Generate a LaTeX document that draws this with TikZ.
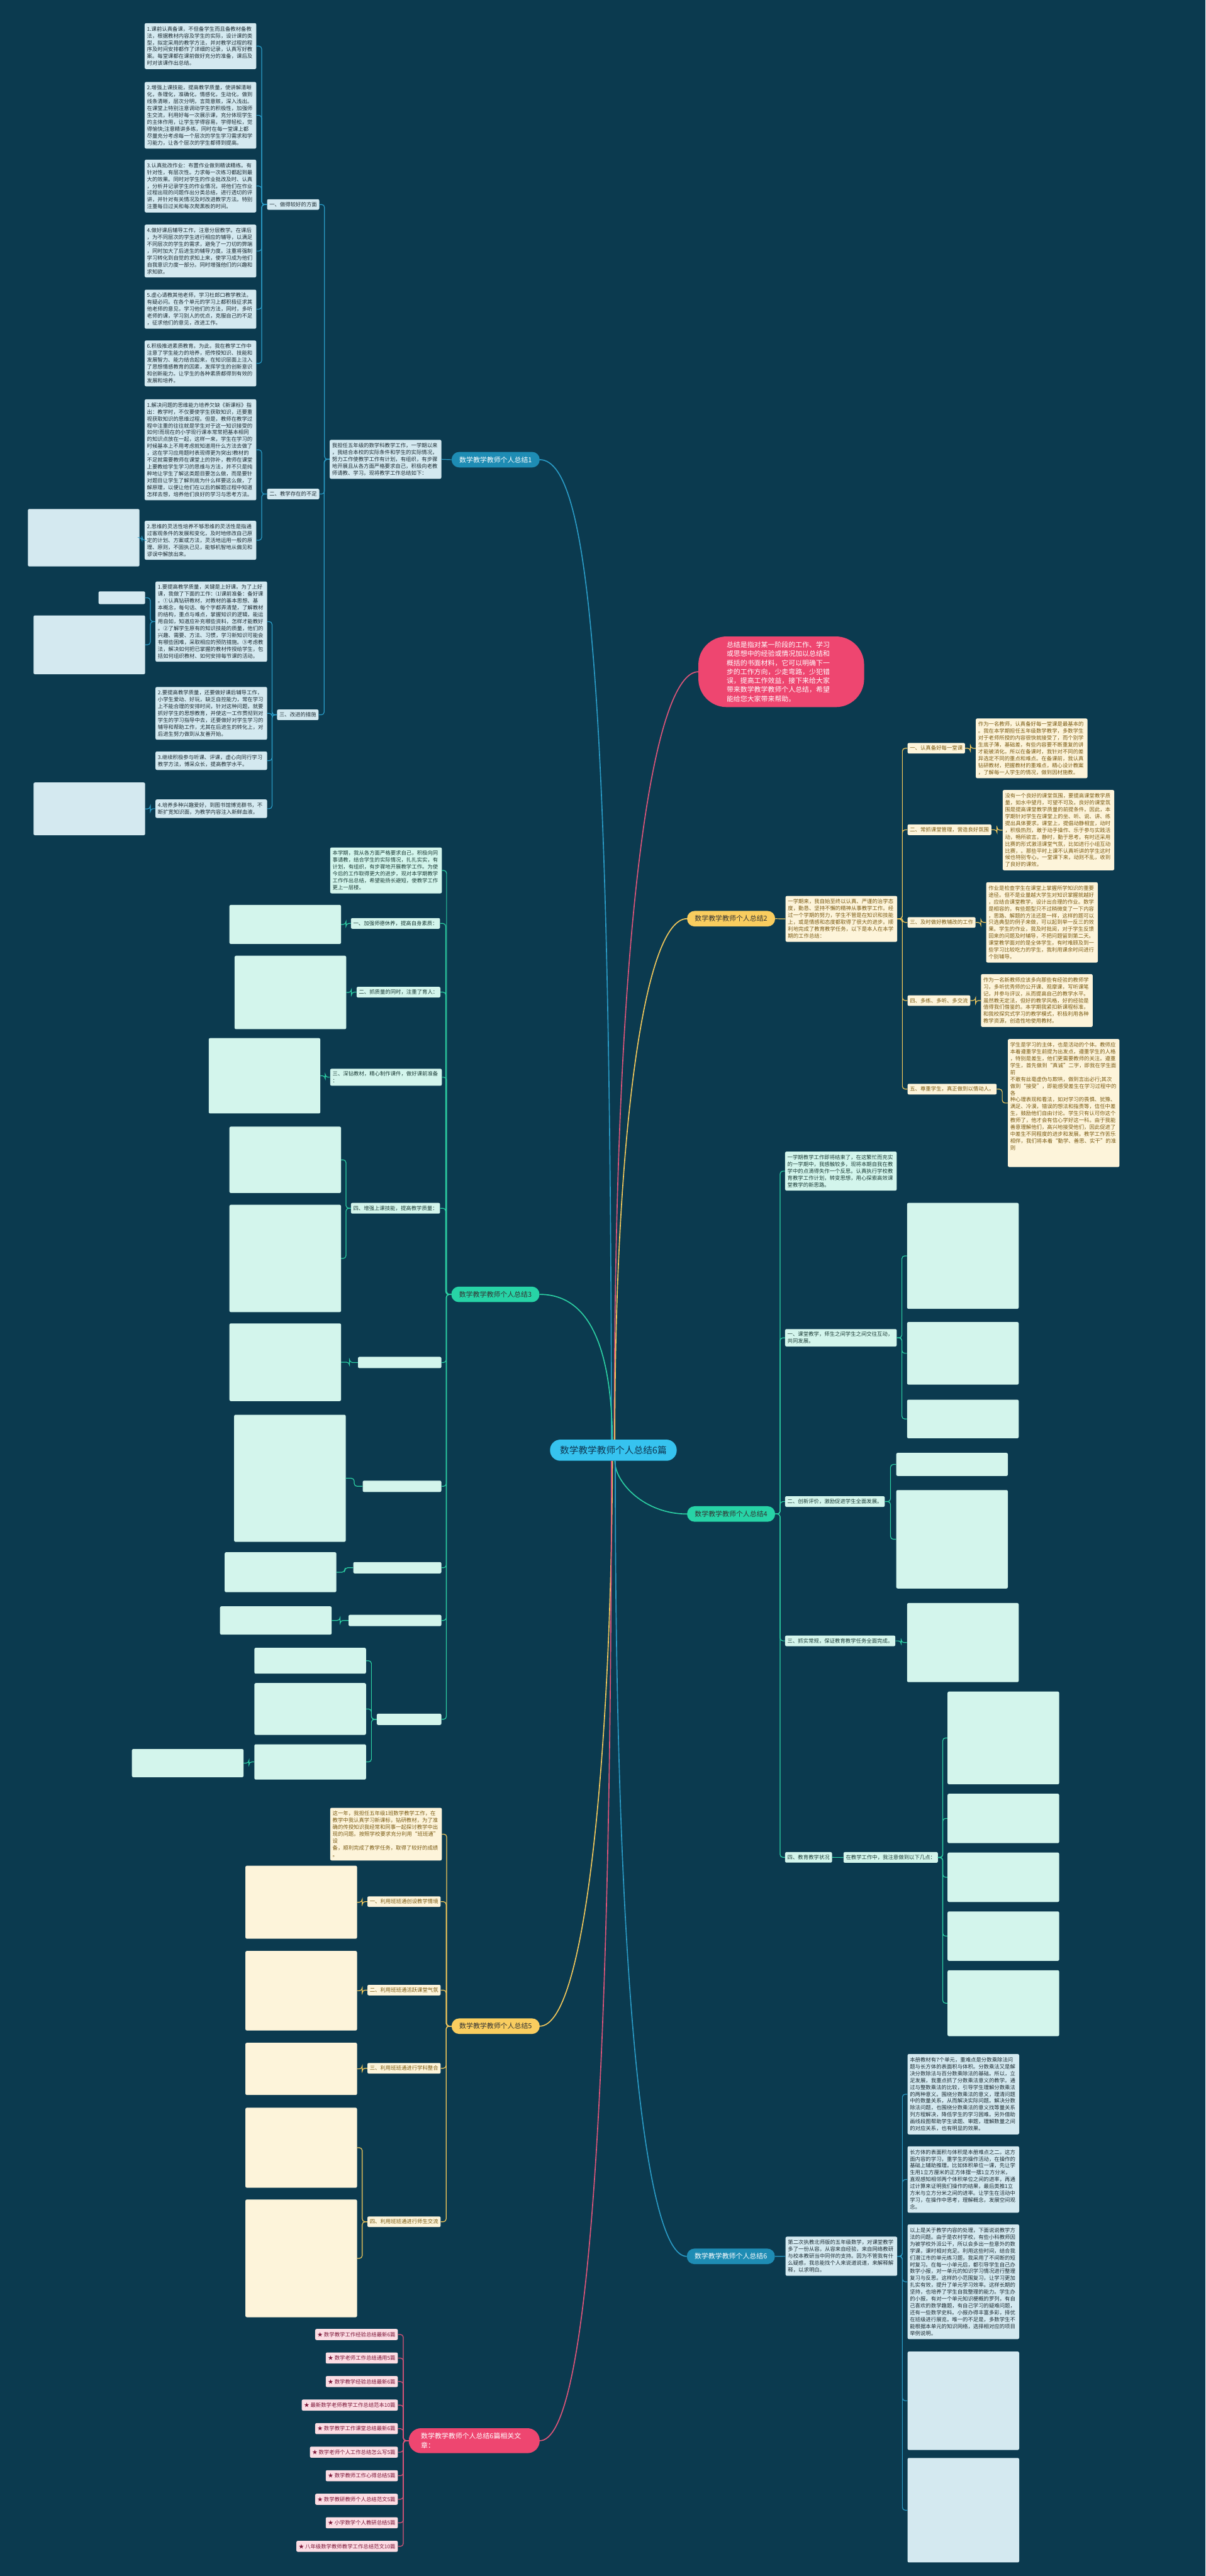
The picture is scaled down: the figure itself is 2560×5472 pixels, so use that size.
\documentclass[tikz,border=0pt]{standalone}
\usepackage{fontspec}
\setmainfont{Noto Sans CJK SC}
\usetikzlibrary{calc}
\XeTeXlinebreaklocale "zh"
\XeTeXlinebreakskip=0pt plus 1pt
\definecolor{bg}{HTML}{0B3A4F}
\definecolor{bnode}{HTML}{1E8CB4}
\definecolor{bline}{HTML}{2A9BC6}
\definecolor{bbox}{HTML}{D4E9F0}
\definecolor{btxt}{HTML}{1C2B33}
\definecolor{gnode}{HTML}{F9CD5F}
\definecolor{gline}{HTML}{F4C95B}
\definecolor{gbox}{HTML}{FDF4DA}
\definecolor{gtxt}{HTML}{7A5A12}
\definecolor{mnode}{HTML}{27D3A6}
\definecolor{mline}{HTML}{2CCFA3}
\definecolor{mbox}{HTML}{D3F5EC}
\definecolor{mtxt}{HTML}{1B3B36}
\definecolor{rnode}{HTML}{EE4670}
\definecolor{rline}{HTML}{E0557A}
\definecolor{pbox}{HTML}{FCDDE4}
\definecolor{ptxt}{HTML}{7B1436}
\definecolor{cnode}{HTML}{36C3EF}
\definecolor{ctxt}{HTML}{0E3550}
\newcommand\conR[3][]{\draw[#1] (#2.east) -- ($(#2.east)!0.5!(#3.west|-#2.east)$) |- (#3.west);}
\newcommand\conL[3][]{\draw[#1] (#2.west) -- ($(#2.west)!0.5!(#3.east|-#2.west)$) |- (#3.east);}
\tikzset{
  txtbox/.style={rounded corners=3pt, inner xsep=5pt, inner ysep=7pt, anchor=north west, align=left, text width=227pt, font=\fontsize{11.2}{14.6}\selectfont},
  bb/.style={txtbox, fill=bbox, text=btxt},
  gb/.style={txtbox, fill=gbox, text=gtxt},
  mb/.style={txtbox, fill=mbox, text=mtxt},
  emptybox/.style={rounded corners=3pt, inner sep=0pt, anchor=north west, minimum width=237pt, minimum height=#1},
  be/.style={emptybox=#1, fill=bbox},
  ge/.style={emptybox=#1, fill=gbox},
  me/.style={emptybox=#1, fill=mbox},
  sublab/.style={rounded corners=3pt, inner xsep=5pt, inner ysep=6pt, anchor=north west, align=left, font=\fontsize{11.2}{14.6}\selectfont},
  bs/.style={sublab, fill=bbox, text=btxt},
  gs/.style={sublab, fill=gbox, text=gtxt},
  ms/.style={sublab, fill=mbox, text=mtxt},
  mse/.style={rounded corners=3pt, inner sep=0pt, anchor=north west, minimum width=#1, minimum height=24pt, fill=mbox},
  ps/.style={sublab, fill=pbox, text=ptxt, anchor=north east, inner ysep=6.5pt},
  mainnode/.style={rounded corners=16pt, minimum width=187pt, minimum height=33pt, inner sep=0pt, font=\fontsize{14.6}{16}\selectfont},
  bn/.style={mainnode, fill=bnode, text=white},
  gn/.style={mainnode, fill=gnode, text=black!80},
  mn/.style={mainnode, fill=mnode, text=black!80},
  bl/.style={draw=bline, line width=1.6pt, rounded corners=6pt},
  gl/.style={draw=gline, line width=1.6pt, rounded corners=6pt},
  ml/.style={draw=mline, line width=1.6pt, rounded corners=6pt},
  rl/.style={draw=rline, line width=1.6pt, rounded corners=6pt},
  cl/.style={line width=2.2pt},
}
\begin{document}
\begin{tikzpicture}[x=1pt,y=-1pt]
\fill[bg] (0,0) rectangle (2560,5472);
\useasboundingbox (0,0) rectangle (2560,5472);

% ---------------- center
\node[rounded corners=22pt, fill=cnode, text=ctxt, minimum width=269pt, minimum height=45pt, font=\fontsize{19.6}{22}\selectfont] (c) at (1302.5,3080.5) {数学教学教师个人总结6篇};

% ---------------- red intro
\node[rounded corners=60pt, fill=rnode, text=white, minimum width=352pt, minimum height=150pt, text width=232pt, align=left, font=\fontsize{14.6}{19}\selectfont] (r) at (1659,1427) {总结是指对某一阶段的工作、学习\\或思想中的经验或情况加以总结和\\概括的书面材料，它可以明确下一\\步的工作方向，少走弯路，少犯错\\误，提高工作效益，接下来给大家\\带来数学教学教师个人总结，希望\\能给您大家带来帮助。};

% ---------------- branch 1
\node[bn] (b1) at (1052.5,976.5) {数学教学教师个人总结1};
\node[bb] (b1i) at (700,934) {我担任五年级的数学科教学工作，一学期以来\\，我结合本校的实际条件和学生的实际情况，\\努力工作使教学工作有计划，有组织，有步骤\\地开展且从各方面严格要求自己，积极向老教\\师请教、学习。现将教学工作总结如下：};
\node[bs] (s1a) at (567,423) {一、做得较好的方面};
\node[bs] (s1b) at (567,1038) {二、教学存在的不足};
\node[bs] (s1c) at (588,1507) {三、改进的措施};
\node[bb] (a1) at (307,49) {1.课前认真备课，不但备学生而且备教材备教\\法，根据教材内容及学生的实际，设计课的类\\型，拟定采用的教学方法，并对教学过程的程\\序及时间安排都作了详细的记录，认真写好教\\案。每堂课都在课前做好充分的准备，课后及\\时对该课作出总结。};
\node[bb] (a2) at (307,174) {2.增强上课技能，提高教学质量，使讲解清晰\\化，条理化，准确化，情感化，生动化，做到\\线条清晰，层次分明，言简意赅，深入浅出。\\在课堂上特别注意调动学生的积极性，加强师\\生交流，利用好每一次展示课，充分体现学生\\的主体作用，让学生学得容易，学得轻松，觉\\得愉快;注意精讲多练，同时在每一堂课上都\\尽量充分考虑每一个层次的学生学习需求和学\\习能力，让各个层次的学生都得到提高。};
\node[bb] (a3) at (307,339) {3.认真批改作业：布置作业做到精读精练。有\\针对性，有层次性。力求每一次练习都起到最\\大的效果。同时对学生的作业批改及时、认真\\，分析并记录学生的作业情况，将他们在作业\\过程出现的问题作出分类总结，进行透切的评\\讲，并针对有关情况及时改进教学方法。特别\\注重每日过关和每次爬黑板的时间。};
\node[bb] (a4) at (307,477) {4.做好课后辅导工作，注意分层教学。在课后\\，为不同层次的学生进行相应的辅导，以满足\\不同层次的学生的需求，避免了一刀切的弊端\\，同时加大了后进生的辅导力度。注重将强制\\学习转化到自觉的求知上来，使学习成为他们\\自我意识力度一部分。同时增强他们的兴趣和\\求知欲。};
\node[bb] (a5) at (307,615) {5.虚心请教其他老师，学习杜郎口教学教法。\\有疑必问。在各个单元的学习上都积极征求其\\他老师的意见，学习他们的方法，同时，多听\\老师的课，学习别人的优点，克服自己的不足\\，征求他们的意见，改进工作。};
\node[bb] (a6) at (307,723) {6.积极推进素质教育。为此，我在教学工作中\\注意了学生能力的培养，把传授知识、技能和\\发展智力、能力结合起来，在知识层面上注入\\了思想情感教育的因素，发挥学生的创新意识\\和创新能力。让学生的各种素质都得到有效的\\发展和培养。};
\node[bb] (bb1) at (307,848) {1.解决问题的思维能力培养欠缺《新课标》指\\出：教学时，不仅要使学生获取知识，还要重\\视获取知识的思维过程。但是，教师在教学过\\程中注重的往往就是学生对于这一知识接受的\\如何!而现在的小学现行课本常常把基本相同\\的知识点放在一起，这样一来，学生在学习的\\时候基本上不用考虑就知道用什么方法去做了\\，这在学习应用题时表现得更为突出!教材的\\不足就需要教师在课堂上的弥补，教师在课堂\\上要教给学生学习的思维与方法，并不只是纯\\粹地让学生了解这类题目要怎么做，而是要针\\对题目让学生了解到底为什么样要这么做，了\\解原理，以便让他们在以后的解题过程中知道\\怎样去想，培养他们良好的学习与思考方法。};
\node[bb] (bb2) at (307,1106) {2.思维的灵活性培养不够思维的灵活性是指通\\过客观条件的发展和变化，及时地修改自己原\\定的计划、方案或方法，灵活地运用一般的原\\理、原则，不固执己见，能够机智地从偏见和\\谬误中解放出来。};
\node[be=122pt] (bb2x) at (59,1081) {};
\node[bb] (c1) at (330,1235) {1.要提高教学质量，关键是上好课。为了上好\\课，我做了下面的工作：⑴课前准备：备好课\\。①认真钻研教材，对教材的基本思想、基\\本概念，每句话、每个字都弄清楚，了解教材\\的结构，重点与难点，掌握知识的逻辑，能运\\用自如，知道应补充哪些资料，怎样才能教好\\。②了解学生原有的知识技能的质量，他们的\\兴趣、需要、方法、习惯，学习新知识可能会\\有哪些困难，采取相应的预防措施。③考虑教\\法，解决如何把已掌握的教材传授给学生，包\\括如何组织教材、如何安排每节课的活动。};
\node[be=27pt, minimum width=99pt] (c1x1) at (209,1256) {};
\node[be=125pt] (c1x2) at (71,1307) {};
\node[bb] (c2) at (330,1459) {2.要提高教学质量，还要做好课后辅导工作，\\小学生爱动、好玩，缺乏自控能力，常在学习\\上不能合理的安排时间，针对这种问题，就要\\抓好学生的思想教育，并使这一工作贯彻到对\\学生的学习指导中去，还要做好对学生学习的\\辅导和帮助工作，尤其在后进生的转化上，对\\后进生努力做到从友善开始。};
\node[bb] (c3) at (330,1596) {3.继续积极参与听课、评课，虚心向同行学习\\教学方法，博采众长，提高教学水平。};
\node[bb] (c4) at (330,1698) {4.培养多种兴趣爱好，到图书馆博览群书，不\\断扩宽知识面，为教学内容注入新鲜血液。};
\node[be=112pt] (c4x) at (71,1662) {};
\draw[bl] (b1.west) -- (b1i.east);
\foreach \s in {s1a,s1b,s1c} {\conL[bl]{b1i}{\s}}
\foreach \s in {a1,a2,a3,a4,a5,a6} {\conL[bl]{s1a}{\s}}
\foreach \s in {bb1,bb2} {\conL[bl]{s1b}{\s}}
\foreach \s in {c1,c2,c3,c4} {\conL[bl]{s1c}{\s}}
\conL[bl]{bb2}{bb2x}
\conL[bl]{c1}{c1x1}
\conL[bl]{c1}{c1x2}
\conL[bl]{c4}{c4x}

% ---------------- branch 2
\node[gn] (b2) at (1552.5,1951.5) {数学教学教师个人总结2};
\node[gb] (b2i) at (1668,1903) {一学期来，我自始至终以认真、严谨的治学态\\度，勤恳、坚持不懈的精神从事教学工作。经\\过一个学期的努力，学生不管是在知识和技能\\上，或是情感和态度都取得了很大的进步。顺\\利地完成了教育教学任务，以下是本人在本学\\期的工作总结：};
\node[gs] (s2a) at (1927,1578) {一、认真备好每一堂课};
\node[gs] (s2b) at (1927,1751) {二、常抓课堂管理，营造良好氛围};
\node[gs] (s2c) at (1927,1948) {三、及时做好教辅改的工作};
\node[gs] (s2d) at (1927,2114) {四、多练、多听、多交流};
\node[gs] (s2e) at (1927,2302) {五、尊重学生，真正做到以情动人。};
\node[gb] (t2a) at (2072,1526) {作为一名教师，认真备好每一堂课是最基本的\\。我在本学期担任五年级数学教学，多数学生\\对于老师所授的内容很快就接受了，而个别学\\生底子薄，基础差，有些内容要不断重复的讲\\才能被消化。所以在备课时，我针对不同的差\\异选定不同的重点和难点。在备课前，我认真\\钻研教材，把握教材的重难点，精心设计教案\\，了解每一人学生的情况，做到因材施教。};
\node[gb] (t2b) at (2129,1678) {没有一个良好的课堂氛围，要提高课堂教学质\\量，如水中望月，可望不可及。良好的课堂氛\\围是提高课堂教学质量的前提条件。因此，本\\学期针对学生在课堂上的坐、听、说、讲、练\\提出具体要求。课堂上，提倡动静相宜，动时\\，积极热烈，敢于动手操作、乐于参与实践活\\动，畅所欲言。静时，勤于思考。有时还采用\\比赛的形式激活课堂气氛，比如进行小组互动\\比赛，。那些平时上课不认真听讲的学生这时\\候也特别专心。一堂课下来，动则不乱，收到\\了良好的课效。};
\node[gb] (t2c) at (2094,1874) {作业是检查学生在课堂上掌握所学知识的重要\\途径。但不是业量越大学生对知识掌握就越好\\，应结合课堂教学，设计出合理的作业。数学\\是相容的，有些题型只不过稍微变了一下内容\\，思路、解题的方法还是一样，这样的题可以\\只选典型的例子来做，可以起到举一反三的效\\果。学生的作业，我及时批阅，对于学生反馈\\回来的问题及时辅导，不把问题留到第二天。\\课堂教学面对的是全体学生，有时难顾及到一\\些学习比较吃力的学生，我利用课余时间进行\\个别辅导。};
\node[gb] (t2d) at (2083,2069) {作为一名新教师应该多向那些有经验的教师学\\习，多听优秀师的公开课、观摩课，写听课笔\\记，并参与评议，从而提高自己的教学水平。\\虽然教无定法，但好的教学风格，好的经验是\\值得我们借鉴的。本学期我紧扣新课程标准，\\和我校探究式学习的教学模式，积极利用各种\\教学资源，创造性地使用教材。};
\node[gb] (t2e) at (2140,2207) {学生是学习的主体，也是活动的个体。教师应\\本着遵重学生前提为出发点，遵重学生的人格\\，特别是差生，他们更需要教师的关注。遵重\\学生，首先做到“真诚”二字，即我在学生面前\\不敢有丝毫虚伪与欺哄，做到言出必行;其次\\做到“接受”，即能感受差生在学习过程中的各\\种心理表现和看法，如对学习的畏惧、犹豫、\\满足、冷漠，错误的想法和指责等，信任中差\\生，鼓励他们自由讨论。学生只有认可你这个\\教师了，他才会有信心学好这一科。由于我能\\善意理解他们，高兴地接受他们，因此促进了\\中差生不同程度的进步和发展。教学工作苦乐\\相伴，我们将本着“勤学、善思、实干”的准则\\\mbox{}\\\mbox{}};
\draw[gl] (b2.east) -- (b2i.west);
\foreach \s in {s2a,s2b,s2c,s2d,s2e} {\conR[gl]{b2i}{\s}}
\conR[gl]{s2a}{t2a}
\conR[gl]{s2b}{t2b}
\conR[gl]{s2c}{t2c}
\conR[gl]{s2d}{t2d}
\conR[gl]{s2e}{t2e}

% ---------------- branch 3
\node[mn] (b3) at (1052,2749.5) {数学教学教师个人总结3};
\node[mb] (b3i) at (701,1800) {本学期，我从各方面严格要求自己，积极向同\\事请教，结合学生的实际情况，扎扎实实，有\\计划，有组织，有步骤地开展教学工作。为使\\今后的工作取得更大的进步，现对本学期教学\\工作作出总结，希望能扬长避短，使教学工作\\更上一层楼。};
\node[ms] (s3a) at (745,1950) {一、加强师德休养，提高自身素质：};
\node[ms] (s3b) at (757,2096) {二、抓质量的同时，注重了育人：};
\node[ms, text width=227pt] (s3c) at (701,2270) {三、深钻教材，精心制作课件，做好课前准备\\：};
\node[ms] (s3d) at (745,2555) {四、增强上课技能，提高教学质量：};
\node[mse=177pt] (s3e) at (760,2882) {};
\node[mse=167pt] (s3f) at (770,3145) {};
\node[mse=187pt] (s3g) at (750,3318) {};
\node[mse=197pt] (s3h) at (740,3430) {};
\node[mse=137pt] (s3i) at (800,3640) {};
\foreach \s in {b3i,s3a,s3b,s3c,s3d,s3e,s3f,s3g,s3h,s3i} {\conL[ml]{b3}{\s}}
\node[me=83pt] (m3a) at (487,1922) {};
\node[me=156pt] (m3b) at (498,2030) {};
\node[me=160pt] (m3c) at (443,2205) {};
\node[me=141pt] (m3d1) at (487,2393) {};
\node[me=228pt] (m3d2) at (487,2559) {};
\node[me=165pt] (m3e) at (487,2811) {};
\node[me=270pt] (m3f) at (497,3005) {};
\node[me=85pt] (m3g) at (477,3297) {};
\node[me=60pt] (m3h) at (467,3412) {};
\node[me=55pt] (m3i1) at (540,3500) {};
\node[me=110pt] (m3i2) at (540,3575) {};
\node[me=75pt] (m3i3) at (540,3705) {};
\node[me=60pt] (m3i4) at (280,3715) {};
\conL[ml]{s3a}{m3a}
\conL[ml]{s3b}{m3b}
\conL[ml]{s3c}{m3c}
\conL[ml]{s3d}{m3d1}
\conL[ml]{s3d}{m3d2}
\conL[ml]{s3e}{m3e}
\conL[ml]{s3f}{m3f}
\conL[ml]{s3g}{m3g}
\conL[ml]{s3h}{m3h}
\conL[ml]{s3i}{m3i1}
\conL[ml]{s3i}{m3i2}
\conL[ml]{s3i}{m3i3}
\conL[ml]{m3i3}{m3i4}

% ---------------- branch 4
\node[mn] (b4) at (1552.5,3216) {数学教学教师个人总结4};
\node[mb] (b4i) at (1667,2446) {一学期教学工作即将结束了，在这繁忙而充实\\的一学期中，我感触较多，现将本期自我在教\\学中的点滴得失作一个反思。认真执行学校教\\育教学工作计划，转变思想，用心探索高效课\\堂教学的新思路。};
\node[ms, text width=227pt] (s4a) at (1667,2823) {一、课堂教学，师生之间学生之间交往互动，\\共同发展。};
\node[ms] (s4b) at (1667,3178) {二、创新评价，激励促进学生全面发展。};
\node[ms] (s4c) at (1667,3474) {三、抓实常规，保证教育教学任务全面完成。};
\node[ms] (s4d) at (1667,3934) {四、教育教学状况};
\node[ms] (s4d1) at (1791,3934) {在教学工作中，我注意做到以下几点：};
\foreach \s in {b4i,s4a,s4b,s4c,s4d} {\conR[ml]{b4}{\s}}
\draw[ml] (s4d.east) -- (s4d1.west);
\node[me=225pt] (m4a1) at (1926,2555) {};
\node[me=133pt] (m4a2) at (1926,2808) {};
\node[me=82pt] (m4a3) at (1926,2973) {};
\node[me=49pt] (m4b1) at (1903,3086) {};
\node[me=209pt] (m4b2) at (1903,3165) {};
\node[me=168pt] (m4c1) at (1926,3405) {};
\node[me=197pt] (m4d1) at (2012,3593) {};
\node[me=105pt] (m4d2) at (2012,3810) {};
\node[me=105pt] (m4d3) at (2012,3935) {};
\node[me=105pt] (m4d4) at (2012,4060) {};
\node[me=140pt] (m4d5) at (2012,4185) {};
\foreach \s in {m4a1,m4a2,m4a3} {\conR[ml]{s4a}{\s}}
\foreach \s in {m4b1,m4b2} {\conR[ml]{s4b}{\s}}
\conR[ml]{s4c}{m4c1}
\foreach \s in {m4d1,m4d2,m4d3,m4d4,m4d5} {\conR[ml]{s4d1}{\s}}

% ---------------- branch 5
\node[gn] (b5) at (1052.5,4304) {数学教学教师个人总结5};
\node[gb] (b5i) at (701,3840) {这一年，我担任五年级1班数学教学工作，在\\教学中我认真学习新课标，钻研教材，为了准\\确的传授知识我经常和同事一起探讨教学中出\\现的问题。按照学校要求充分利用“班班通”设\\备，顺利完成了教学任务，取得了较好的成绩\\。};
\node[gs] (s5a) at (780,4028) {一、利用班班通创设教学情境};
\node[gs] (s5b) at (780,4216) {二、利用班班通活跃课堂气氛};
\node[gs] (s5c) at (780,4382) {三、利用班班通进行学科整合};
\node[gs] (s5d) at (780,4708) {四、利用班班通进行师生交流};
\foreach \s in {b5i,s5a,s5b,s5c,s5d} {\conL[gl]{b5}{\s}}
\node[ge=155pt] (g5a) at (521,3963) {};
\node[ge=169pt] (g5b) at (521,4144) {};
\node[ge=111pt] (g5c) at (521,4339) {};
\node[ge=170pt] (g5d1) at (521,4477) {};
\node[ge=250pt] (g5d2) at (521,4672) {};
\conL[gl]{s5a}{g5a}
\conL[gl]{s5b}{g5b}
\conL[gl]{s5c}{g5c}
\conL[gl]{s5d}{g5d1}
\conL[gl]{s5d}{g5d2}

% ---------------- branch 6
\node[bn] (b6) at (1552,4793) {数学教学教师个人总结6};
\node[bb] (b6i) at (1668,4751) {第二次执教北师版的五年级数学，对课堂教学\\多了一份从容。从容来自经验，来自网络教研\\与校本教研当中同伴的支持。因为不管我有什\\么疑惑，我总能找个人来说道说道，来解释解\\释，以求明白。};
\node[bb] (t6a) at (1927,4363) {本册教材有7个单元，重难点是分数乘除法问\\题与长方体的表面积与体积。分数乘法又是解\\决分数除法与百分数乘除法的基础。所以，立\\足发展，我重点抓了分数乘法意义的教学。通\\过与整数乘法的比较，引导学生理解分数乘法\\的两种意义。围绕分数乘法的意义，理清问题\\中的数量关系，从而解决实际问题。解决分数\\除法问题，也围绕分数乘法的意义找等量关系\\列方程解决，降低学生的学习困难。另外借助\\画线段图帮助学生读题、审题，理解数量之间\\的对应关系，也有明显的效果。};
\node[bb] (t6b) at (1927,4559) {长方体的表面积与体积是本册难点之二。这方\\面内容的学习，重学生的操作活动，在操作的\\基础上辅助推理。比如体积单位一课，先让学\\生用1立方厘米的正方体摆一摆1立方分米，\\直观感知相邻两个体积单位之间的进率，再通\\过计算来证明我们操作的结果，最后类推1立\\方米与立方分米之间的进率。让学生在活动中\\学习，在操作中思考，理解概念，发展空间观\\念。};
\node[bb] (t6c) at (1927,4725) {以上是关于教学内容的处理，下面说说教学方\\法的问题。由于是农村学校，有些小科教师因\\为被学校外派公干，所以会多出一些意外的数\\学课，课时相对充足。利用这些时间，结合我\\们潜江市的单元练习题，我采用了不间断的短\\时复习。在每一小单元后，都引导学生自己办\\数学小报，对一单元的知识学习情况进行整理\\复习与反思。这样的小范围复习，让学习更加\\扎实有效，提升了单元学习效率。这样长期的\\坚持，也培养了学生自我整理的能力。学生办\\的小报，有对一个单元知识梗概的罗列，有自\\己喜欢的数学趣题，有自己学习的疑难问题，\\还有一些数学史料。小报办得丰富多彩，择优\\在班级进行展览。唯一的不足是，多数学生不\\能根据本单元的知识网络，选择相对应的项目\\举例说明。};
\node[be=209pt] (t6d) at (1927,4995) {};
\node[be=222pt] (t6e) at (1927,5221) {};
\draw[bl] (b6.east) -- (b6i.west);
\foreach \s in {t6a,t6b,t6c,t6d,t6e} {\conR[bl]{b6i}{\s}}

% ---------------- related
\node[rounded corners=26pt, fill=rnode, text=white, minimum width=278pt, minimum height=53pt, text width=226pt, align=left, font=\fontsize{14.6}{19}\selectfont] (rel) at (1007,5184.5) {数学教学教师个人总结6篇相关文\\章：};
\node[ps] (p1) at (845,4947) {★ 数学教学工作经验总结最新6篇};
\node[ps] (p2) at (845,4997) {★ 数学老师工作总结通用5篇};
\node[ps] (p3) at (845,5047) {★ 数学教学经验总结最新6篇};
\node[ps] (p4) at (845,5097) {★ 最新数学老师教学工作总结范本10篇};
\node[ps] (p5) at (845,5147) {★ 数学教学工作课堂总结最新6篇};
\node[ps] (p6) at (845,5197) {★ 数学老师个人工作总结怎么写5篇};
\node[ps] (p7) at (845,5247) {★ 数学教师工作心得总结5篇};
\node[ps] (p8) at (845,5297) {★ 数学教研教师个人总结范文5篇};
\node[ps] (p9) at (845,5347) {★ 小学数学个人教研总结5篇};
\node[ps] (p10) at (845,5397) {★ 八年级数学教师教学工作总结范文10篇};
\foreach \s in {p1,p2,p3,p4,p5,p6,p7,p8,p9,p10} {\conL[rl]{rel}{\s}}

% ---------------- center connectors
\draw[cl, draw=bline] (b1.east) .. controls +(110,0) and (1296,1500) .. ([xshift=-4pt]c.north);
\draw[cl, draw=rline] (r.west) .. controls +(-90,0) and (1304,1900) .. ([xshift=2pt]c.north);
\draw[cl, draw=gline] (b2.west) .. controls +(-90,0) and (1306,2400) .. ([xshift=3pt]c.north);
\draw[cl, draw=mline] (b3.east) .. controls +(100,0) and (1298,2850) .. ([xshift=-2pt]c.north);
\draw[cl, draw=mline] (b4.west) .. controls +(-90,0) and (1306,3150) .. ([xshift=3pt]c.south);
\draw[cl, draw=gline] (b5.east) .. controls +(100,0) and (1298,3700) .. ([xshift=-2pt]c.south);
\draw[cl, draw=bline] (b6.west) .. controls +(-90,0) and (1306,4200) .. ([xshift=4pt]c.south);
\draw[cl, draw=rline] (rel.east) .. controls +(100,0) and (1298,4500) .. ([xshift=-4pt]c.south);
\end{tikzpicture}
\end{document}
